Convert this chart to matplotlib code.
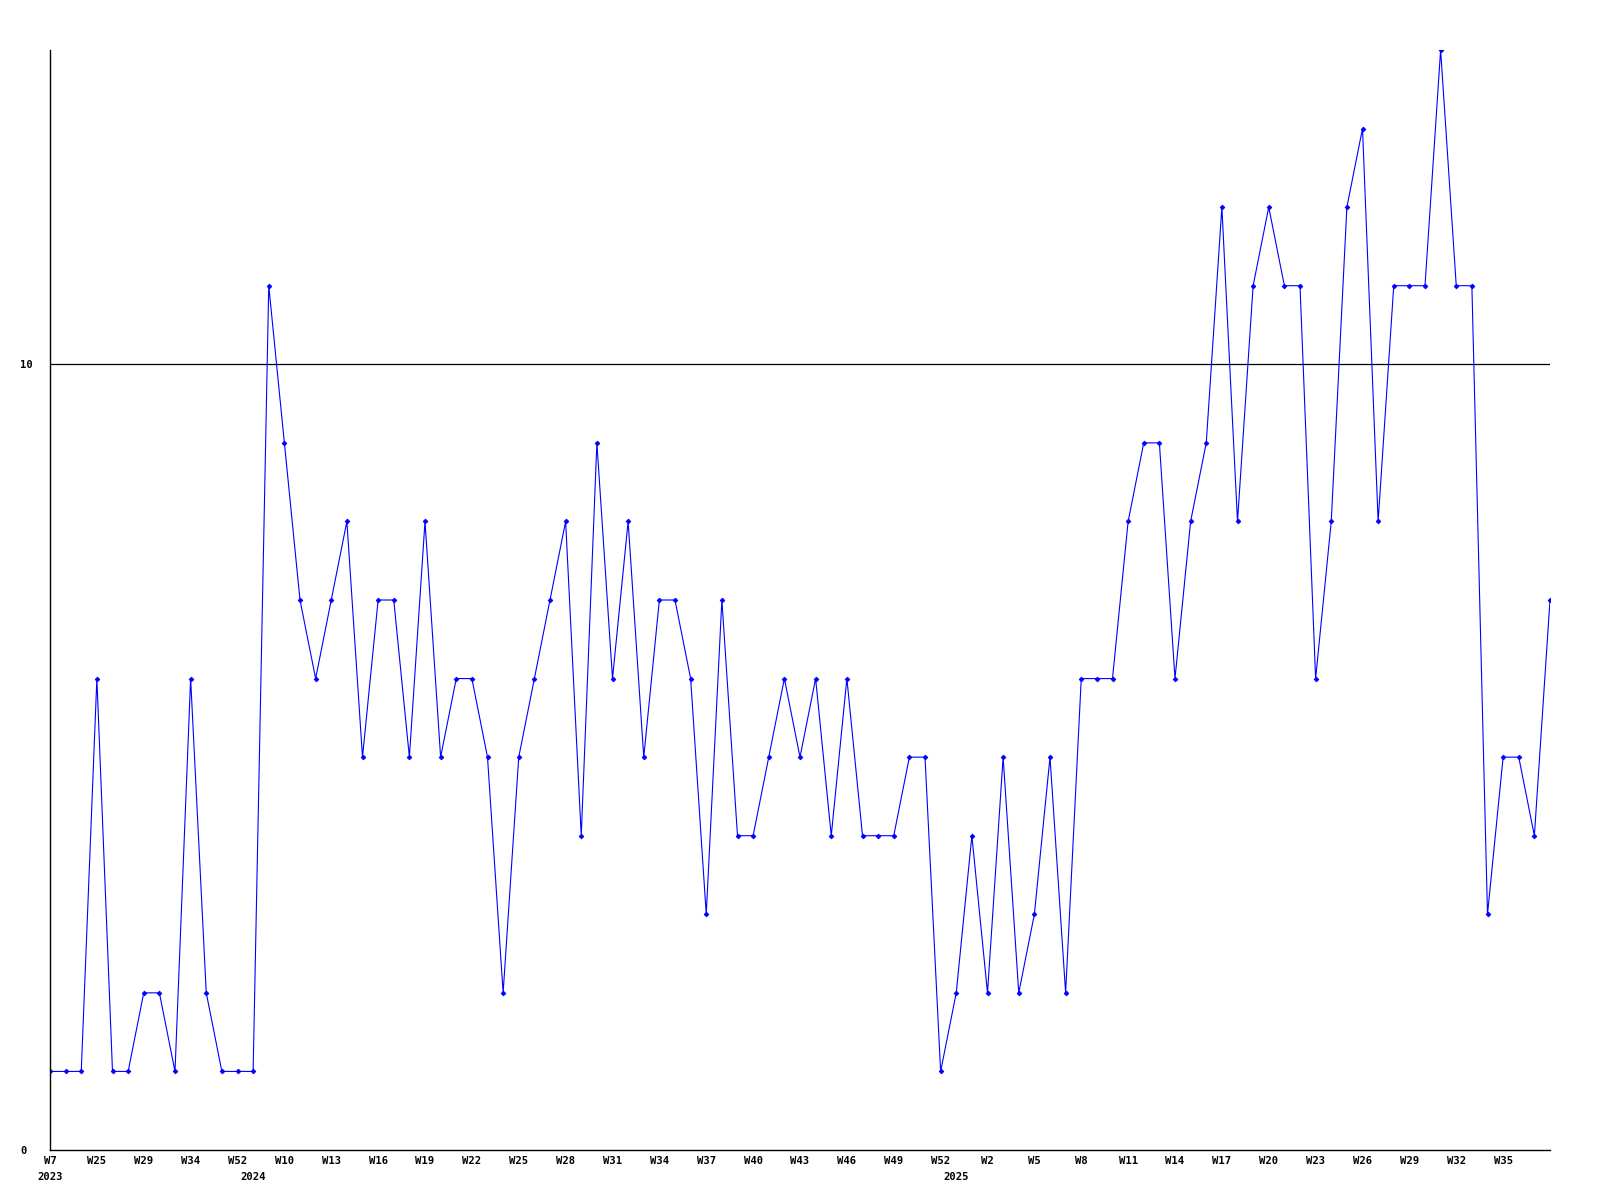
import matplotlib.pyplot as plt
import numpy as np

# weekly counts, one value per point (categorical x, irregular weeks)
values = [1, 1, 1, 6, 1, 1, 2, 2, 1, 6, 2, 1, 1, 1, 11, 9, 7, 6, 7, 8,
          5, 7, 7, 5, 8, 5, 6, 6, 5, 2, 5, 6, 7, 8, 4, 9, 6, 8, 5, 7,
          7, 6, 3, 7, 4, 4, 5, 6, 5, 6, 4, 6, 4, 4, 4, 5, 5, 1, 2, 4,
          2, 5, 2, 3, 5, 2, 6, 6, 6, 8, 9, 9, 6, 8, 9, 12, 8, 11, 12, 11,
          11, 6, 8, 12, 13, 8, 11, 11, 11, 14, 11, 11, 3, 5, 5, 4, 7]

week_labels = ['W7', 'W25', 'W29', 'W34', 'W52', 'W10', 'W13', 'W16', 'W19', 'W22',
               'W25', 'W28', 'W31', 'W34', 'W37', 'W40', 'W43', 'W46', 'W49', 'W52',
               'W2', 'W5', 'W8', 'W11', 'W14', 'W17', 'W20', 'W23', 'W26', 'W29',
               'W32', 'W35']
year_labels = ['2023', '2024', '2025']
year_index = [0, 13, 58]

x = np.arange(len(values))

fig = plt.figure(figsize=(16, 12), dpi=100)
ax = fig.add_axes([50/1600, 50/1200, 1500/1600, 1100/1200])

ax.axhline(10, color='black', linewidth=0.9)
ax.plot(x, values, color='#0000ff', linewidth=0.8, marker='D', markersize=2.4,
        markeredgewidth=0.6)

ax.set_xlim(0, len(values) - 1)
ax.set_ylim(0, 14)

for s in ['top', 'right']:
    ax.spines[s].set_visible(False)
ax.spines['left'].set_linewidth(1.0)
ax.spines['bottom'].set_linewidth(1.0)

font = dict(family='DejaVu Sans Mono', weight='bold', size=7.6)
ax.set_yticks([0, 10])
ax.set_yticklabels(['0', '10'], ha='left', **font)
ax.tick_params(axis='y', length=0, pad=21.5)

ax.set_xticks(x[:len(week_labels) * 3:3])
ax.set_xticklabels(week_labels, **font)
ax.tick_params(axis='x', length=0, pad=4)

for lab, i in zip(year_labels, year_index):
    ax.text(i, -0.34, lab, ha='center', va='center', **font)

fig.savefig('out.png', dpi=100)
